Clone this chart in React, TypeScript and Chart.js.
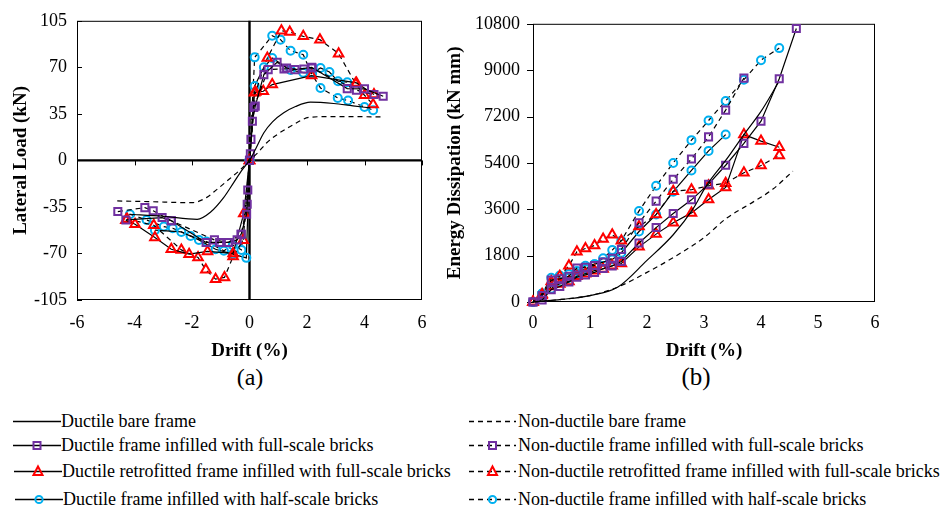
import React, { useEffect, useRef } from 'react';
import { Chart, registerables } from 'chart.js';
Chart.register(...registerables);

const SERIF = '"Liberation Serif", "Times New Roman", serif';
const PURPLE = '#7030A0';
const RED = '#FF0000';
const CYAN = '#00B0F0';

// ---------- labels ----------
const SERIES_LABELS = [
  'Ductile bare frame',
  'Non-ductile bare frame',
  'Ductile frame infilled with full-scale bricks',
  'Non-ductile frame infilled with full-scale bricks',
  'Ductile retrofitted frame infilled with full-scale bricks',
  'Non-ductile retrofitted frame infilled with full-scale bricks',
  'Ductile frame infilled with half-scale bricks',
  'Non-ductile frame infilled with half-scale bricks',
];

// ---------- ticks ----------
const A_X_TICKS = [-6, -4, -2, 0, 2, 4, 6];
const A_Y_TICKS = [-105, -70, -35, 0, 35, 70, 105];
const B_X_TICKS = [0, 1, 2, 3, 4, 5, 6];
const B_Y_TICKS = [0, 1800, 3600, 5400, 7200, 9000, 10800];

// ---------- (a) lateral load vs drift ----------
const a_ductBare_x = [-4.2, -3.0, -1.82, -1.36, -0.9, -0.55, -0.25, 0, 0.2, 0.5, 0.8, 1.19, 1.6, 2.12, 2.93, 3.6, 4.2];
const a_ductBare_y = [-40.5, -42, -44.3, -39, -28, -16.7, -7, 0, 8, 20.8, 29, 35.8, 40.5, 43.8, 42.8, 41, 39.5];
const a_nonBare_x = [-4.6, -3.5, -2.0, -1.5, -1.13, -0.7, -0.31, 0, 0.3, 0.6, 1.0, 1.43, 2.12, 3.0, 4.56];
const a_nonBare_y = [-30.5, -31, -31.8, -28, -21.8, -14, -6.8, 0, 6, 13.3, 20, 25.7, 32.5, 33, 32.7];

const a_ductFull_x = [-4.3, -3.04, -2.72, -1.51, -1.04, -0.74, -0.43, -0.29, -0.1, -0.06, 0, 0.03, 0.1, 0.2, 0.5, 0.96, 1.29, 1.58, 2.16, 3.4, 4.0, 4.65];
const a_ductFull_y = [-44.8, -43, -45.4, -61.7, -61.7, -61.7, -59.8, -55.5, -40.5, -22.3, 0, 5, 29.5, 40.8, 64.5, 73.8, 69.5, 68.3, 70, 54, 53.8, 48.3];
const a_nonFull_x = [-4.58, -3.64, -3.35, -2.72, -1.22, -0.74, -0.29, -0.08, 0, 0.05, 0.15, 0.65, 1.2, 1.89, 2.18, 3.72, 4.33];
const a_nonFull_y = [-38.5, -35.5, -37.9, -45.4, -59.8, -61.7, -55.5, -33, 0, 15.8, 39.8, 68.3, 68.8, 68.8, 69.5, 52.8, 49.5];

const a_ductRetro_x = [-4.3, -3.98, -3.29, -2.72, -2.1, -1.46, -0.57, -0.2, 0, 0.17, 0.48, 0.79, 2.16, 3.72, 4.33];
const a_ductRetro_y = [-45, -48, -58, -66.8, -70.5, -68.5, -70, -40, 0, 50.8, 52, 57, 63.8, 58.3, 49.5];
const a_nonRetro_x = [-4.26, -3.33, -2.37, -1.79, -1.52, -1.18, -0.87, -0.57, -0.22, 0, 0.21, 0.62, 1.11, 1.4, 1.87, 2.45, 3.1, 3.69, 4.0, 4.3];
const a_nonRetro_y = [-44, -48.8, -67.3, -73, -82.3, -89.3, -88, -72.3, -60, 0, 51.4, 77, 97.5, 96.5, 93.3, 90.8, 80.3, 57.8, 49, 42];

const a_ductHalf_x = [-3.29, -2.37, -1.76, -1.18, -0.58, -0.11, 0, 0.18, 0.5, 0.79, 1.43, 1.87, 2.18, 2.47, 2.78, 3.08, 3.4];
const a_ductHalf_y = [-52.5, -53.8, -59.8, -66.8, -70.5, -73.3, 0, 56, 70, 77, 68, 66, 65.8, 69.5, 66.5, 59.5, 58.8];
const a_nonHalf_x = [-4.16, -3.58, -2.98, -2.67, -2.05, -1.5, -0.89, -0.58, -0.28, 0, 0.18, 0.79, 1.08, 1.43, 1.87, 2.16, 2.47, 3.07, 3.43, 4.0, 4.3];
const a_nonHalf_y = [-40.5, -44.8, -49.8, -51, -56.8, -61, -68, -63.8, -67.3, 0, 77.5, 93.8, 90.8, 82.5, 79.5, 65, 54.5, 47, 45, 40.2, 37.8];

// ---------- (b) energy dissipation vs drift ----------
const b_ductBare_x = [0, 0.5, 1.0, 1.49, 1.99, 2.46, 2.81, 3.04, 3.39, 3.7, 4.0, 4.3];
const b_ductBare_y = [0, 100, 250, 583, 1596, 2610, 3623, 4510, 5524, 6500, 7400, 8500];
const b_nonBare_x = [0, 0.5, 1.0, 1.49, 2.0, 2.46, 3.0, 3.39, 3.8, 4.21, 4.56];
const b_nonBare_y = [0, 100, 250, 583, 1150, 1723, 2500, 3244, 3800, 4384, 5081];

const b_cyc_x = [0, 0.16, 0.32, 0.47, 0.63, 0.77, 0.92, 1.08, 1.23, 1.39, 1.55, 1.86, 2.16, 2.46, 2.78, 3.08, 3.38, 3.7, 4.0, 4.32, 4.62];
const b_ductFull_y = [0, 76, 481, 600, 780, 963, 1050, 1150, 1300, 1400, 1571, 2293, 2889, 3434, 3966, 4574, 5309, 6157, 7019, 8666, 10617];
const b_nonFull_y = [0, 250, 850, 900, 1000, 1318, 1350, 1420, 1550, 1700, 2040, 3079, 3915, 4764, 5549, 6411, 7450, 8692];
const b_ductRetro_y = [0, 250, 600, 700, 800, 1000, 1100, 1216, 1280, 1406, 1495, 2141, 2635, 3079, 3459, 3978, 4447, 6500, 6246, 6006];
const b_nonRetro_y = [0, 300, 800, 1000, 1406, 1951, 2078, 2192, 2445, 2610, 2382, 2927, 3396, 4300, 4358, 4510, 4612, 5017, 5296, 5689];
const b_ductHalf_y = [0, 329, 519, 773, 937, 1115, 1280, 1470, 1550, 1650, 1913, 2737, 3396, 4282, 5106, 5866, 6500];
const b_nonHalf_y = [0, 329, 937, 1026, 1090, 1200, 1406, 1470, 1698, 2014, 2382, 3535, 4510, 5397, 6284, 7045, 7805, 8628, 9388, 9857];

type Marker = 'rect' | 'triangle' | 'circle' | null;
const SERIES_STYLE: { dashed: boolean; marker: Marker; color: string }[] = [
  { dashed: false, marker: null, color: '#000' },
  { dashed: true, marker: null, color: '#000' },
  { dashed: false, marker: 'rect', color: PURPLE },
  { dashed: true, marker: 'rect', color: PURPLE },
  { dashed: false, marker: 'triangle', color: RED },
  { dashed: true, marker: 'triangle', color: RED },
  { dashed: false, marker: 'circle', color: CYAN },
  { dashed: true, marker: 'circle', color: CYAN },
];

function pts(xs: number[], ys: number[]) {
  const n = Math.min(xs.length, ys.length);
  const out: { x: number; y: number }[] = [];
  for (let i = 0; i < n; i++) out.push({ x: xs[i], y: ys[i] });
  return out;
}

function makeDatasets(data: { x: number; y: number }[][]) {
  return data.map((d, i) => {
    const st = SERIES_STYLE[i];
    const r = st.marker === 'rect' ? 5 : st.marker === 'triangle' ? 5.5 : 4;
    return {
      label: SERIES_LABELS[i],
      data: d,
      showLine: true,
      clip: 10,
      borderColor: '#000',
      borderWidth: 1.2,
      borderDash: st.dashed ? [5, 4] : [],
      cubicInterpolationMode: st.marker ? 'default' : 'monotone',
      tension: 0,
      pointStyle: st.marker || 'circle',
      pointRadius: st.marker ? r : 0,
      pointHoverRadius: st.marker ? r : 0,
      pointBorderColor: st.color,
      pointBackgroundColor: 'rgba(255,255,255,0)',
      pointBorderWidth: 2,
    };
  });
}

function axesPlugin(kind: 'a' | 'b') {
  return {
    id: 'customAxes' + kind,
    beforeDatasetsDraw(chart: any) {
      const { ctx, chartArea: ca, scales } = chart;
      const xs = scales.x;
      const ys = scales.y;
      ctx.save();
      ctx.strokeStyle = '#000';
      ctx.lineWidth = 1;
      ctx.setLineDash([]);
      ctx.strokeRect(ca.left + 0.5, ca.top + 0.5, ca.right - ca.left - 1, ca.bottom - ca.top - 1);
      if (kind === 'a') {
        const x0 = xs.getPixelForValue(0);
        const y0 = ys.getPixelForValue(0);
        ctx.lineWidth = 2.4;
        ctx.beginPath();
        ctx.moveTo(x0, ca.top);
        ctx.lineTo(x0, ca.bottom);
        ctx.moveTo(ca.left, y0);
        ctx.lineTo(ca.right, y0);
        ctx.stroke();
        ctx.lineWidth = 1;
        ctx.beginPath();
        for (const v of A_X_TICKS) {
          const px = Math.round(xs.getPixelForValue(v)) + 0.5;
          ctx.moveTo(px, y0);
          ctx.lineTo(px, y0 + 5);
        }
        for (const v of A_Y_TICKS) {
          const py = Math.round(ys.getPixelForValue(v)) + 0.5;
          ctx.moveTo(ca.left, py);
          ctx.lineTo(ca.left + 5, py);
        }
        ctx.stroke();
      } else {
        ctx.beginPath();
        for (const v of B_Y_TICKS) {
          const py = Math.round(ys.getPixelForValue(v)) + 0.5;
          ctx.moveTo(ca.left - 6, py);
          ctx.lineTo(ca.left, py);
        }
        ctx.stroke();
      }
      ctx.restore();
    },
  };
}

function scaleOpts(opts: {
  min: number; max: number; step: number; title: string; fixed: number; pad: number; titlePad: any; horizontal: boolean; tickList: number[];
}) {
  return {
    type: 'linear',
    min: opts.min,
    max: opts.max,
    afterBuildTicks: (s: any) => {
      s.ticks = opts.tickList.map((v) => ({ value: v }));
    },
    ticks: {
      stepSize: opts.step,
      font: { size: 18, family: SERIF },
      color: '#000',
      padding: opts.pad,
      callback: (v: any) => String(v),
    },
    grid: { display: false, drawTicks: false },
    border: { display: false },
    title: {
      display: true,
      text: opts.title,
      font: { size: 19, weight: 'bold', family: SERIF },
      color: '#000',
      padding: opts.titlePad,
    },
    afterFit: (s: any) => {
      if (opts.horizontal) s.height = opts.fixed;
      else s.width = opts.fixed;
    },
  };
}

function ChartA() {
  const ref = useRef<HTMLCanvasElement>(null);
  useEffect(() => {
    const data = [
      pts(a_ductBare_x, a_ductBare_y),
      pts(a_nonBare_x, a_nonBare_y),
      pts(a_ductFull_x, a_ductFull_y),
      pts(a_nonFull_x, a_nonFull_y),
      pts(a_ductRetro_x, a_ductRetro_y),
      pts(a_nonRetro_x, a_nonRetro_y),
      pts(a_ductHalf_x, a_ductHalf_y),
      pts(a_nonHalf_x, a_nonHalf_y),
    ];
    const chart = new Chart(ref.current as HTMLCanvasElement, {
      type: 'scatter',
      data: { datasets: makeDatasets(data) as any },
      options: {
        responsive: false,
        animation: false,
        devicePixelRatio: 1,
        layout: { padding: { left: 0, right: 18, top: 20, bottom: 0 } },
        plugins: { legend: { display: false }, tooltip: { enabled: false } },
        scales: {
          x: scaleOpts({ min: -6, max: 6, step: 2, title: 'Drift (%)', fixed: 62, pad: 12, titlePad: { top: 0, bottom: 0 }, horizontal: true, tickList: A_X_TICKS }) as any,
          y: scaleOpts({ min: -105, max: 105, step: 35, title: 'Lateral Load (kN)', fixed: 77, pad: 10, titlePad: { top: 10, bottom: 0 }, horizontal: false, tickList: A_Y_TICKS }) as any,
        },
      },
      plugins: [axesPlugin('a')],
    });
    return () => chart.destroy();
  }, []);
  return <canvas ref={ref} width={440} height={362} style={{ position: 'absolute', left: 0, top: 0 }} />;
}

function ChartB() {
  const ref = useRef<HTMLCanvasElement>(null);
  useEffect(() => {
    const data = [
      pts(b_ductBare_x, b_ductBare_y),
      pts(b_nonBare_x, b_nonBare_y),
      pts(b_cyc_x, b_ductFull_y),
      pts(b_cyc_x, b_nonFull_y),
      pts(b_cyc_x, b_ductRetro_y),
      pts(b_cyc_x, b_nonRetro_y),
      pts(b_cyc_x, b_ductHalf_y),
      pts(b_cyc_x, b_nonHalf_y),
    ];
    const chart = new Chart(ref.current as HTMLCanvasElement, {
      type: 'scatter',
      data: { datasets: makeDatasets(data) as any },
      options: {
        responsive: false,
        animation: false,
        devicePixelRatio: 1,
        layout: { padding: { left: 0, right: 74, top: 18, bottom: 0 } },
        plugins: { legend: { display: false }, tooltip: { enabled: false } },
        scales: {
          x: scaleOpts({ min: 0, max: 6, step: 1, title: 'Drift (%)', fixed: 60, pad: 10, titlePad: { top: 0, bottom: 0 }, horizontal: true, tickList: B_X_TICKS }) as any,
          y: scaleOpts({ min: 0, max: 10800, step: 1800, title: 'Energy Dissipation (kN mm)', fixed: 93, pad: 13, titlePad: { top: 4, bottom: 0 }, horizontal: false, tickList: B_Y_TICKS }) as any,
        },
      },
      plugins: [axesPlugin('b')],
    });
    return () => chart.destroy();
  }, []);
  return <canvas ref={ref} width={509} height={362} style={{ position: 'absolute', left: 440, top: 0 }} />;
}

function LegendMarker({ kind, color, cx, cy }: { kind: Marker; color: string; cx: number; cy: number }) {
  if (kind === 'rect') return <rect x={cx - 3.5} y={cy - 3.5} width={7} height={7} fill="none" stroke={color} strokeWidth={2} />;
  if (kind === 'triangle')
    return <polygon points={`${cx},${cy - 5} ${cx + 4.5},${cy + 3.5} ${cx - 4.5},${cy + 3.5}`} fill="none" stroke={color} strokeWidth={2} />;
  if (kind === 'circle') return <circle cx={cx} cy={cy} r={3.6} fill="none" stroke={color} strokeWidth={2} />;
  return null;
}

const LEGEND_ROW_Y = [421, 445, 471, 499];

function Legend() {
  const items: React.ReactNode[] = [];
  SERIES_LABELS.forEach((label, i) => {
    const st = SERIES_STYLE[i];
    const row = Math.floor(i / 2);
    const right = i % 2 === 1;
    const cy = LEGEND_ROW_Y[row];
    const lineLeft = right ? 469 : 13 + (row >= 2 ? row - 1 : 0);
    const lineW = right ? 47 : 48;
    const textLeft = right ? 518 : 61 + (row >= 2 ? row - 1 : 0);
    items.push(
      <svg key={'s' + i} width={lineW} height={14} style={{ position: 'absolute', left: lineLeft, top: cy - 7 }}>
        <line x1={0} y1={7.5} x2={lineW} y2={7.5} stroke="#000" strokeWidth={1.3} strokeDasharray={st.dashed ? '5,4' : undefined} />
        <LegendMarker kind={st.marker} color={st.color} cx={lineW / 2} cy={7.5} />
      </svg>
    );
    items.push(
      <div
        key={'t' + i}
        style={{
          position: 'absolute',
          left: textLeft,
          top: cy - 11,
          height: 22,
          lineHeight: '22px',
          fontSize: 18,
          fontFamily: SERIF,
          color: '#000',
          whiteSpace: 'nowrap',
        }}
      >
        {label}
      </div>
    );
  });
  return <>{items}</>;
}

export default function App() {
  return (
    <div style={{ position: 'absolute', left: 0, top: 0, width: 949, height: 507, background: '#fff', overflow: 'hidden' }}>
      <ChartA />
      <ChartB />
      <div style={{ position: 'absolute', left: 200, width: 100, top: 363, textAlign: 'center', fontFamily: SERIF, fontSize: 24, lineHeight: '28px' }}>(a)</div>
      <div style={{ position: 'absolute', left: 646, width: 100, top: 363, textAlign: 'center', fontFamily: SERIF, fontSize: 25, lineHeight: '28px' }}>(b)</div>
      <Legend />
    </div>
  );
}
